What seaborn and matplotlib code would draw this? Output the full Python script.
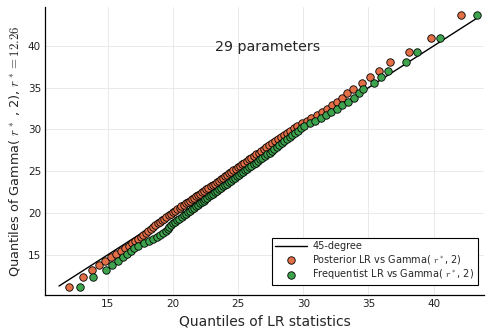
import matplotlib
matplotlib.use("Agg")
import matplotlib.pyplot as plt
import seaborn as sns
import pandas as pd

# Theoretical Gamma(r*, 2) quantiles (shared y values)
gamma_quantiles = [
    11.17, 12.34, 13.12, 13.73, 14.24, 14.68, 15.08, 15.44, 15.78, 16.09,
    16.38, 16.66, 16.92, 17.18, 17.42, 17.66, 17.88, 18.10, 18.32, 18.53,
    18.74, 18.94, 19.13, 19.33, 19.52, 19.71, 19.89, 20.07, 20.26, 20.44,
    20.61, 20.78, 20.96, 21.14, 21.31, 21.48, 21.65, 21.82, 21.99, 22.16,
    22.33, 22.50, 22.67, 22.84, 23.00, 23.18, 23.35, 23.52, 23.69, 23.86,
    24.03, 24.21, 24.38, 24.55, 24.74, 24.91, 25.09, 25.28, 25.46, 25.64,
    25.83, 26.02, 26.22, 26.41, 26.61, 26.81, 27.02, 27.23, 27.44, 27.65,
    27.87, 28.10, 28.33, 28.56, 28.80, 29.05, 29.31, 29.57, 29.84, 30.13,
    30.42, 30.72, 31.04, 31.37, 31.72, 32.08, 32.47, 32.89, 33.33, 33.81,
    34.32, 34.88, 35.52, 36.23, 37.05, 38.04, 39.27, 40.95, 43.70,
]

# Sorted posterior LR statistics
posterior_lr = [
    11.98, 13.13, 13.77, 14.29, 14.80, 15.23, 15.66, 16.00, 16.32, 16.59,
    16.84, 17.08, 17.30, 17.52, 17.72, 17.93, 18.11, 18.30, 18.48, 18.65,
    18.83, 19.00, 19.16, 19.33, 19.49, 19.66, 19.83, 19.99, 20.17, 20.34,
    20.50, 20.65, 20.82, 20.99, 21.15, 21.30, 21.46, 21.62, 21.78, 21.93,
    22.09, 22.25, 22.41, 22.56, 22.71, 22.88, 23.04, 23.19, 23.35, 23.51,
    23.67, 23.83, 23.99, 24.15, 24.32, 24.47, 24.64, 24.81, 24.97, 25.13,
    25.30, 25.48, 25.66, 25.83, 26.01, 26.20, 26.39, 26.58, 26.77, 26.97,
    27.17, 27.38, 27.59, 27.81, 28.03, 28.26, 28.50, 28.75, 29.00, 29.27,
    29.54, 29.87, 30.25, 30.63, 31.02, 31.40, 31.79, 32.18, 32.56, 33.00,
    33.38, 33.85, 34.48, 35.12, 35.79, 36.64, 38.12, 39.82, 42.12,
]

# Sorted frequentist LR statistics
frequentist_lr = [
    12.89, 13.87, 14.85, 15.31, 15.79, 16.15, 16.48, 16.74, 17.00, 17.29,
    17.78, 18.16, 18.46, 18.75, 19.01, 19.25, 19.43, 19.58, 19.72, 19.85,
    20.01, 20.16, 20.31, 20.48, 20.66, 20.83, 20.99, 21.15, 21.31, 21.46,
    21.61, 21.76, 21.93, 22.09, 22.23, 22.36, 22.49, 22.62, 22.77, 22.92,
    23.08, 23.23, 23.37, 23.51, 23.65, 23.81, 23.97, 24.12, 24.27, 24.43,
    24.59, 24.76, 24.92, 25.08, 25.24, 25.38, 25.54, 25.70, 25.86, 26.02,
    26.19, 26.35, 26.52, 26.68, 26.86, 27.03, 27.22, 27.41, 27.59, 27.77,
    27.97, 28.16, 28.35, 28.54, 28.74, 28.95, 29.16, 29.37, 29.59, 29.83,
    30.05, 30.48, 30.89, 31.38, 31.77, 32.15, 32.62, 33.00, 33.46, 33.90,
    34.28, 34.62, 35.43, 36.00, 36.50, 37.85, 38.72, 40.48, 43.31,
]

# 45-degree reference line endpoints
line_ends = [11.25, 43.30]

tick_values = [15, 20, 25, 30, 35, 40]
labels = ["45-degree",
          "Posterior LR vs Gamma( $r^*$, 2)",
          "Frequentist LR vs Gamma( $r^*$, 2)"]
annotation = "29 parameters"

sns.set_style("white")
plt.rcParams["font.family"] = ["DejaVu Sans"]
plt.rcParams["mathtext.fontset"] = "cm"

fig = plt.figure(figsize=(4.88, 3.31), dpi=100)
ax = fig.add_axes([0.0926, 0.1091, 0.8992, 0.8701])

orange = "#E26F46"
green = "#3DA44D"

sns.lineplot(x=line_ends, y=line_ends, ax=ax, color="black", linewidth=1.0,
             label=labels[0], zorder=2)
sns.scatterplot(x=posterior_lr, y=gamma_quantiles, ax=ax, color=orange,
                s=29, edgecolor="black", linewidth=0.6, label=labels[1], zorder=3)
sns.scatterplot(x=frequentist_lr, y=gamma_quantiles, ax=ax, color=green,
                s=29, edgecolor="black", linewidth=0.6, label=labels[2], zorder=4)

ax.set_xlim(10.19, 43.87)
ax.set_ylim(10.19, 44.68)
ax.set_xticks(tick_values)
ax.set_yticks(tick_values)
ax.tick_params(axis="both", which="both", direction="in", length=3, width=0.6,
               color="black", labelsize=7.5, labelcolor="#222222", pad=3)
ax.grid(True, color="#e6e6e6", linewidth=0.6)
ax.set_axisbelow(True)
for side in ["top", "right"]:
    ax.spines[side].set_visible(False)
for side in ["left", "bottom"]:
    ax.spines[side].set_color("black")
    ax.spines[side].set_linewidth(0.9)

ax.set_xlabel("Quantiles of LR statistics", fontsize=10, labelpad=4)
ax.set_ylabel("Quantiles of Gamma( $r^*$ , 2), $r^*=12.26$", fontsize=9.3, labelpad=4)

ax.text(27.3, 39.9, annotation, ha="center", va="center", fontsize=10.3)

leg = ax.legend(loc="lower right", bbox_to_anchor=(0.986, 0.036), fontsize=7,
                frameon=True, fancybox=False, framealpha=1, edgecolor="black",
                borderpad=0.35, labelspacing=0.15, handlelength=3.2, handletextpad=0.6,
                borderaxespad=0)
leg.get_frame().set_linewidth(0.8)

fig.savefig("out.png", dpi=100)
